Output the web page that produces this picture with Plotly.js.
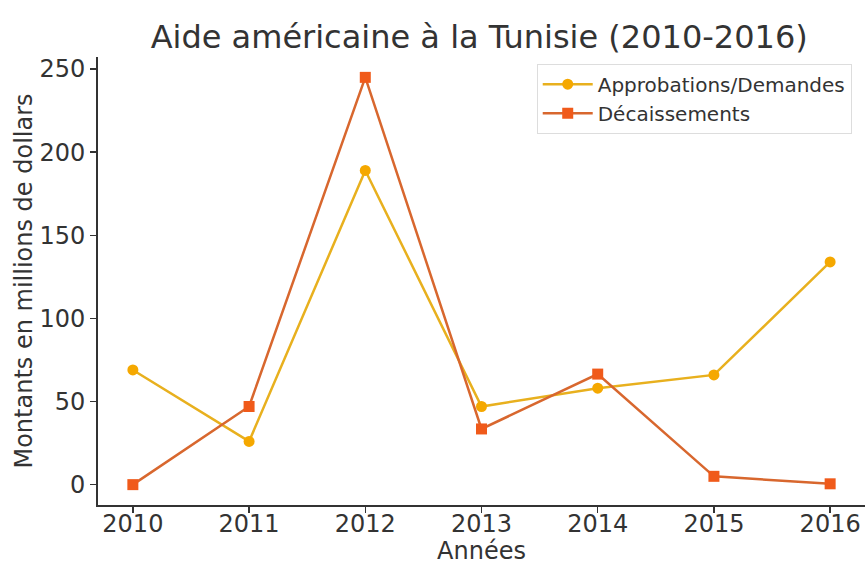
<!DOCTYPE html>
<html>
<head>
<meta charset="utf-8">
<script src="https://cdn.plot.ly/plotly-3.0.1.min.js"></script>
<style>html,body{margin:0;padding:0;background:#fff;}#chart{width:865px;height:565px;}</style>
</head>
<body>
<div id="chart"></div>
<script>
const years = [2010, 2011, 2012, 2013, 2014, 2015, 2016];
const approbations = [69, 26, 189, 47, 58, 66, 134];
const decaissements = [0, 47, 245, 33.5, 66.5, 5, 0.5];
const seriesNames = ["Approbations/Demandes", "Décaissements"];
const titleText = "Aide américaine à la Tunisie (2010-2016)";
const xTitle = "Années";
const yTitle = "Montants en millions de dollars";
const yTicks = [0, 50, 100, 150, 200, 250];

const font = "DejaVu Sans, sans-serif";
const traces = [
  {
    x: years, y: approbations, name: seriesNames[0], type: "scatter", mode: "lines+markers",
    line: {color: "#E8B01E", width: 2.5},
    marker: {symbol: "circle", size: 11, color: "#F5A800"}
  },
  {
    x: years, y: decaissements, name: seriesNames[1], type: "scatter", mode: "lines+markers",
    line: {color: "#D8672E", width: 2.5},
    marker: {symbol: "square", size: 11, color: "#F05A1A"}
  }
];
const layout = {
  width: 865, height: 565,
  paper_bgcolor: "#fff", plot_bgcolor: "#fff",
  margin: {l: 98, r: 0, t: 57, b: 60},
  font: {family: font, color: "#333"},
  title: {text: titleText, font: {family: font, size: 32, color: "#333"}, x: 0.554, xanchor: "center", y: 0.935, yanchor: "middle"},
  showlegend: true,
  legend: {
    x: 0.572, y: 0.985, xanchor: "left", yanchor: "top",
    bgcolor: "#fff", bordercolor: "#ddd", borderwidth: 1,
    font: {family: font, size: 20, color: "#333"},
    itemwidth: 50,
    tracegroupgap: 0
  },
  xaxis: {
    range: [2009.7, 2016.3], tickvals: years, ticktext: years.map(String),
    showgrid: false, zeroline: false, showline: true, linecolor: "#333", linewidth: 2,
    ticks: "outside", ticklen: 6, tickwidth: 1.5, tickcolor: "#333",
    ticklabelstandoff: -10,
    tickfont: {family: font, size: 24, color: "#333"},
    title: {text: xTitle, font: {family: font, size: 24, color: "#333"}, standoff: 9}
  },
  yaxis: {
    range: [-12.25, 257.25], tickvals: yTicks,
    showgrid: false, zeroline: false, showline: true, linecolor: "#333", linewidth: 2,
    ticks: "outside", ticklen: 6, tickwidth: 1.5, tickcolor: "#333",
    tickfont: {family: font, size: 24, color: "#333"},
    title: {text: yTitle, font: {family: font, size: 24, color: "#333"}, standoff: 0}
  }
};
Plotly.newPlot("chart", traces, layout, {displayModeBar: false, staticPlot: true});
</script>
</body>
</html>
